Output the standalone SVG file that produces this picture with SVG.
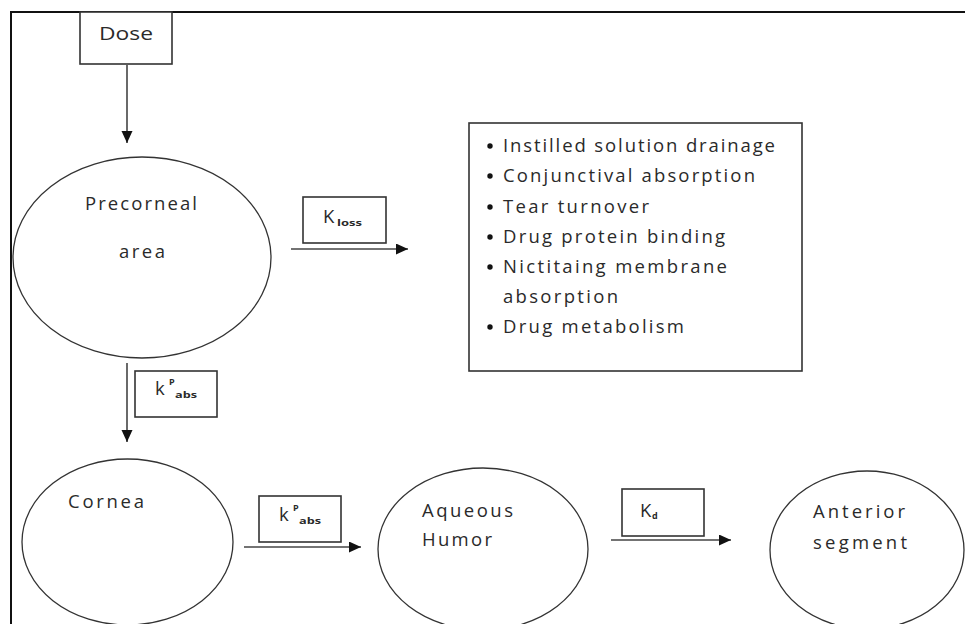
<svg xmlns="http://www.w3.org/2000/svg" width="965" height="624" viewBox="0 0 965 624">
<style>
  .frame{fill:none;stroke:#111;stroke-width:2}
  .box{fill:#fff;stroke:#333;stroke-width:1.6}
  .ell{fill:#fff;stroke:#333;stroke-width:1.3}
  .conn{fill:none;stroke:#444;stroke-width:1.6}
  .t{font-family:"Open Sans","Liberation Sans",sans-serif;font-size:18.5px;fill:#2a2a2a}
  .sub{font-family:"Open Sans","Liberation Sans",sans-serif;font-size:9px;font-weight:bold;fill:#2a2a2a}
  .bul{fill:#111}
</style>
<defs>
  <marker id="ah" markerUnits="userSpaceOnUse" markerWidth="13" markerHeight="12" refX="12" refY="5.5" orient="auto">
    <path d="M0,0 L12,5.5 L0,11 z" fill="#111"/>
  </marker>
</defs>
<rect width="965" height="624" fill="#fff"/>
<path class="frame" d="M11,624 L11,12 L965,12"/>

<g id="dose">
  <rect class="box" x="80" y="12" width="92" height="52"/>
  <text class="t" x="99" y="40" textLength="54" lengthAdjust="spacingAndGlyphs">Dose</text>
</g>

<g id="precorneal">
  <ellipse class="ell" cx="142" cy="257.5" rx="129" ry="100.5"/>
  <text class="t" x="85" y="210" textLength="112" lengthAdjust="spacing">Precorneal</text>
  <text class="t" x="119" y="258" textLength="46" lengthAdjust="spacing">area</text>
</g>

<g id="kloss">
  <rect class="box" x="303" y="197" width="83" height="46"/>
  <text class="t" x="323" y="223">K</text>
  <text class="sub" x="337" y="226" textLength="25" lengthAdjust="spacingAndGlyphs">loss</text>
</g>

<g id="losses">
  <rect class="box" x="469" y="123" width="333" height="248"/>
  <circle class="bul" cx="490" cy="146" r="2.7"/>
  <text class="t" x="503" y="152" textLength="272" lengthAdjust="spacing">Instilled solution drainage</text>
  <circle class="bul" cx="490" cy="176" r="2.7"/>
  <text class="t" x="503" y="182" textLength="252" lengthAdjust="spacing">Conjunctival absorption</text>
  <circle class="bul" cx="490" cy="207" r="2.7"/>
  <text class="t" x="503" y="213" textLength="146" lengthAdjust="spacing">Tear turnover</text>
  <circle class="bul" cx="490" cy="237" r="2.7"/>
  <text class="t" x="503" y="243" textLength="222" lengthAdjust="spacing">Drug protein binding</text>
  <circle class="bul" cx="490" cy="267" r="2.7"/>
  <text class="t" x="503" y="273" textLength="224" lengthAdjust="spacing">Nictitaing membrane</text>
  <text class="t" x="503" y="303" textLength="115" lengthAdjust="spacing">absorption</text>
  <circle class="bul" cx="490" cy="327" r="2.7"/>
  <text class="t" x="503" y="333" textLength="181" lengthAdjust="spacing">Drug metabolism</text>
</g>

<g id="kpabs1">
  <rect class="box" x="135" y="371" width="82" height="46"/>
  <text class="t" x="155" y="395" font-size="17">k</text>
  <text class="sub" x="169" y="385">P</text>
  <text class="sub" x="175" y="398" textLength="22" lengthAdjust="spacingAndGlyphs">abs</text>
</g>

<g id="cornea">
  <ellipse class="ell" cx="127.5" cy="542" rx="105.5" ry="83"/>
  <text class="t" x="68" y="508" textLength="76" lengthAdjust="spacing">Cornea</text>
</g>

<g id="kpabs2">
  <rect class="box" x="259" y="496" width="82" height="46"/>
  <text class="t" x="279" y="521" font-size="17">k</text>
  <text class="sub" x="293" y="511">P</text>
  <text class="sub" x="299" y="524" textLength="22" lengthAdjust="spacingAndGlyphs">abs</text>
</g>

<g id="aqueous">
  <ellipse class="ell" cx="483" cy="549" rx="105" ry="81"/>
  <text class="t" x="422" y="517" textLength="91" lengthAdjust="spacing">Aqueous</text>
  <text class="t" x="422" y="546" textLength="70" lengthAdjust="spacing">Humor</text>
</g>

<g id="kd">
  <rect class="box" x="622" y="489" width="82" height="47"/>
  <text class="t" x="640" y="517">K</text>
  <text class="sub" x="652" y="519">d</text>
</g>

<g id="anterior">
  <ellipse class="ell" cx="867" cy="550" rx="97" ry="79"/>
  <text class="t" x="813" y="518" textLength="92" lengthAdjust="spacing">Anterior</text>
  <text class="t" x="813" y="549" textLength="94" lengthAdjust="spacing">segment</text>
</g>

<g id="connectors">
  <line class="conn" x1="127" y1="65" x2="127" y2="143" marker-end="url(#ah)"/>
  <line class="conn" x1="291" y1="249" x2="408" y2="249" marker-end="url(#ah)"/>
  <line class="conn" x1="127" y1="363" x2="127" y2="442" marker-end="url(#ah)"/>
  <line class="conn" x1="244" y1="547" x2="361" y2="547" marker-end="url(#ah)"/>
  <line class="conn" x1="611" y1="540" x2="731" y2="540" marker-end="url(#ah)"/>
</g>
</svg>
